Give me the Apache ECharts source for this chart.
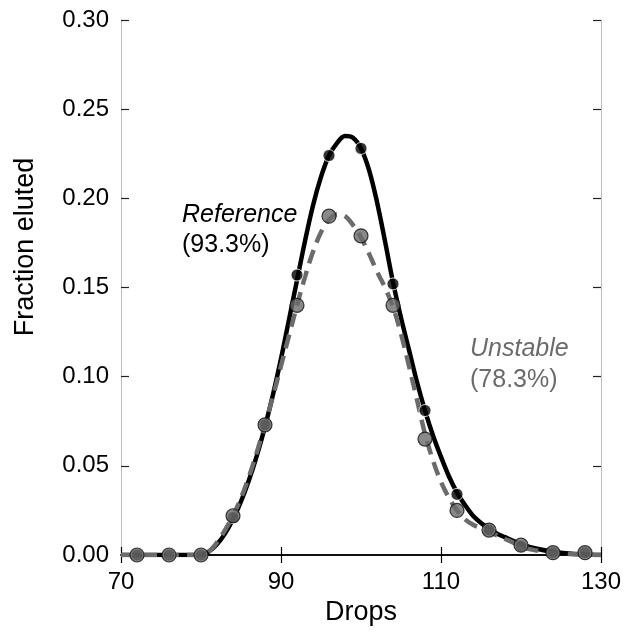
<!DOCTYPE html>
<html>
<head>
<meta charset="utf-8">
<script src="https://cdn.jsdelivr.net/npm/echarts@6/dist/echarts.min.js"></script>
<style>
  html, body { margin: 0; padding: 0; background: #fff; }
  #chart { width: 636px; height: 635px; }
</style>
</head>
<body>
<div id="chart"></div>
<script>
// measured fractions (every 4 drops)
const drops = [72, 76, 80, 84, 88, 92, 96, 100, 104, 108, 112, 116, 120, 124, 128]
const referencePts = [0, 0, 0, 0.021, 0.073, 0.157, 0.224, 0.228, 0.152, 0.081, 0.034, 0.014, 0.005, 0.0013, 0.0013]
const unstablePts = [0, 0, 0, 0.022, 0.073, 0.140, 0.190, 0.179, 0.140, 0.065, 0.025, 0.014, 0.0055, 0.0013, 0.0013]

// fitted curves
const fitDrops = [70, 74, 78, 80, 81, 82, 83, 84, 85, 86, 87, 88, 89, 90, 91, 92, 93, 94, 95, 96, 97, 98, 99,
  100, 101, 102, 103, 104, 105, 106, 107, 108, 109, 110, 111, 112, 113, 114, 115, 116, 117, 118, 119, 120,
  122, 124, 126, 128, 130]
const referenceFit = [0, 0, 0, 0, 0.002, 0.006, 0.012, 0.020, 0.030, 0.042, 0.056, 0.072, 0.090, 0.110, 0.132,
  0.154, 0.176, 0.196, 0.212, 0.224, 0.231, 0.235, 0.234, 0.228, 0.216, 0.198, 0.176, 0.153, 0.133, 0.115,
  0.097, 0.081, 0.067, 0.055, 0.044, 0.035, 0.028, 0.022, 0.018, 0.015, 0.012, 0.010, 0.008, 0.006,
  0.0035, 0.0018, 0.0008, 0.0003, 0]
const unstableFit = [0, 0, 0, 0, 0.002, 0.007, 0.014, 0.022, 0.032, 0.044, 0.058, 0.073, 0.089, 0.106, 0.123,
  0.140, 0.156, 0.170, 0.181, 0.188, 0.191, 0.190, 0.185, 0.178, 0.169, 0.159, 0.150, 0.139, 0.124, 0.106,
  0.087, 0.068, 0.053, 0.041, 0.032, 0.025, 0.020, 0.017, 0.015, 0.013, 0.011, 0.009, 0.007, 0.0045,
  0.0025, 0.001, 0.0005, 0.0002, 0]

const FONT = 'Liberation Sans, Arial, sans-serif'
const GRAY = '#6b6b6b'

const pairs = (xs, ys) => xs.map((x, i) => [x, ys[i]])

const chart = echarts.init(document.getElementById('chart'))

const xBase = {
  type: 'value',
  min: 70,
  max: 130,
  interval: 20,
  axisLine: { show: true, lineStyle: { color: '#000', width: 1.5 } },
  axisTick: { show: true, inside: true, length: 8, lineStyle: { color: '#000', width: 1.2 } },
  splitLine: { show: false }
}
const yBase = {
  type: 'value',
  min: 0,
  max: 0.3,
  interval: 0.05,
  axisLine: { show: true, lineStyle: { color: '#bdbdbd', width: 1 } },
  axisTick: { show: true, inside: true, length: 8, lineStyle: { color: '#222', width: 1.2 } },
  splitLine: { show: false }
}

chart.setOption({
  animation: false,
  grid: { left: 121, right: 35, top: 20, bottom: 80, containLabel: false },
  xAxis: [
    {
      ...xBase,
      position: 'bottom',
      name: 'Drops',
      nameLocation: 'middle',
      nameGap: 35,
      nameTextStyle: { fontFamily: FONT, fontSize: 27, color: '#000' },
      axisLabel: { fontFamily: FONT, fontSize: 24, color: '#000', margin: 15 }
    },
    { ...xBase, position: 'top', axisLabel: { show: false } }
  ],
  yAxis: [
    {
      ...yBase,
      position: 'left',
      axisLabel: {
        fontFamily: FONT, fontSize: 24, color: '#000', margin: 12,
        formatter: v => v.toFixed(2)
      }
    },
    { ...yBase, position: 'right', axisLabel: { show: false } }
  ],
  graphic: [
    {
      type: 'text', x: 26, y: 247, rotation: Math.PI / 2,
      style: { text: 'Fraction eluted', font: '27px ' + FONT, fill: '#000', align: 'center', verticalAlign: 'middle' }
    },
    {
      type: 'text', x: 182, y: 215,
      style: { text: 'Reference', font: 'italic 25px ' + FONT, fill: '#000', align: 'left', verticalAlign: 'middle' }
    },
    {
      type: 'text', x: 182, y: 245,
      style: { text: '(93.3%)', font: '25px ' + FONT, fill: '#000', align: 'left', verticalAlign: 'middle' }
    },
    {
      type: 'text', x: 470, y: 349,
      style: { text: 'Unstable', font: 'italic 25px ' + FONT, fill: GRAY, align: 'left', verticalAlign: 'middle' }
    },
    {
      type: 'text', x: 470, y: 380,
      style: { text: '(78.3%)', font: '25px ' + FONT, fill: GRAY, align: 'left', verticalAlign: 'middle' }
    }
  ],
  series: [
    {
      name: 'Reference fit',
      type: 'line',
      data: pairs(fitDrops, referenceFit),
      smooth: 0.35,
      showSymbol: false,
      lineStyle: { color: '#000', width: 4.5 },
      z: 2
    },
    {
      name: 'Unstable fit',
      type: 'line',
      data: pairs(fitDrops, unstableFit),
      smooth: 0.35,
      showSymbol: false,
      lineStyle: { color: GRAY, width: 4.5, type: [14, 8] },
      z: 3
    },
    {
      name: 'Reference',
      type: 'scatter',
      data: pairs(drops, referencePts),
      symbolSize: 12,
      itemStyle: { color: '#000', borderColor: '#fff', borderWidth: 1 },
      z: 4
    },
    {
      name: 'Unstable',
      type: 'scatter',
      data: pairs(drops, unstablePts),
      symbolSize: 14,
      itemStyle: { color: GRAY, borderColor: '#111', borderWidth: 1.2 },
      z: 5
    }
  ]
})
</script>
</body>
</html>
